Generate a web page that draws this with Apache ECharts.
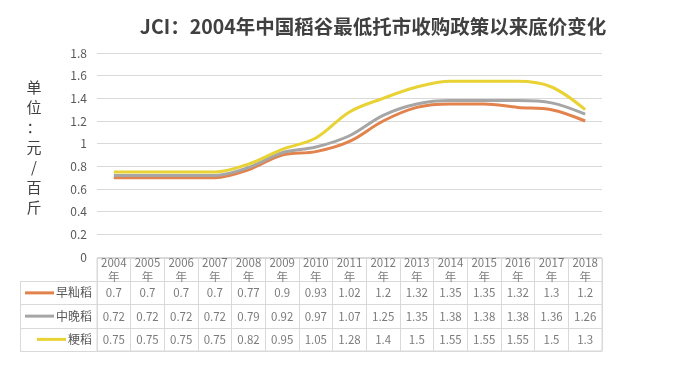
<!DOCTYPE html>
<html>
<head>
<meta charset="utf-8">
<script src="https://cdn.jsdelivr.net/npm/echarts@6/dist/echarts.min.js"></script>
<style>
  html, body { margin: 0; padding: 0; background: #fff; }
  #main { width: 700px; height: 377px; }
</style>
</head>
<body>
<div id="main"></div>
<script>
// data
const YEARS = ["2004", "2005", "2006", "2007", "2008", "2009", "2010", "2011",
  "2012", "2013", "2014", "2015", "2016", "2017", "2018"];
const SERIES_NAMES = ["早籼稻", "中晚稻", "粳稻"];
const EARLY_INDICA = [0.7, 0.7, 0.7, 0.7, 0.77, 0.9, 0.93, 1.02, 1.2, 1.32, 1.35, 1.35, 1.32, 1.3, 1.2];
const MID_LATE_INDICA = [0.72, 0.72, 0.72, 0.72, 0.79, 0.92, 0.97, 1.07, 1.25, 1.35, 1.38, 1.38, 1.38, 1.36, 1.26];
const JAPONICA = [0.75, 0.75, 0.75, 0.75, 0.82, 0.95, 1.05, 1.28, 1.4, 1.5, 1.55, 1.55, 1.55, 1.5, 1.3];
const Y_MIN = 0, Y_MAX = 1.8, Y_STEP = 0.2;

const COLORS = ["#E2824C", "#A6A6A6", "#E8D234"];
const GRID_COLOR = "#d9d9d9";
const TEXT_COLOR = "#595959";
const FONT = "'Noto Sans CJK SC', sans-serif";

// layout
const PLOT_LEFT = 97, PLOT_RIGHT = 98, PLOT_TOP = 53, PLOT_BOTTOM = 257;
const TABLE_TOP = 258, TABLE_BOTTOM = 351, LABEL_COL_LEFT = 20;
const ROW_H = (TABLE_BOTTOM - TABLE_TOP) / 4;

const valueRows = [EARLY_INDICA, MID_LATE_INDICA, JAPONICA];
let cells = [];
YEARS.forEach((y, i) => {
  cells.push([i, 0, y + "\n年"]);
  valueRows.forEach((row, r) => cells.push([i, r + 1, row[i]]));
});

const lineSeries = [EARLY_INDICA, MID_LATE_INDICA, JAPONICA].map((d, k) => ({
  name: SERIES_NAMES[k],
  type: "line",
  smooth: 0.35,
  showSymbol: false,
  xAxisIndex: 0,
  yAxisIndex: 0,
  lineStyle: { width: 3, color: COLORS[k] },
  itemStyle: { color: COLORS[k] },
  z: 3 + k,
  data: d,
}));

const option = {
  animation: false,
  textStyle: { fontFamily: FONT },
  title: [
    {
      text: "JCI：2004年中国稻谷最低托市收购政策以来底价变化",
      left: 368,
      top: 12,
      textAlign: "center",
      textStyle: { fontSize: 19.5, fontWeight: "bold", color: "#404040", fontFamily: FONT },
    },
    {
      text: "单\n位\n：\n元\n/\n百\n斤",
      left: 29,
      top: 72,
      textAlign: "center",
      textStyle: { fontSize: 15, lineHeight: 20, fontWeight: "normal", color: "#404040", fontFamily: FONT },
    },
  ],
  grid: [
    { left: PLOT_LEFT, right: PLOT_RIGHT, top: PLOT_TOP, height: PLOT_BOTTOM - PLOT_TOP },
    {
      left: PLOT_LEFT, right: PLOT_RIGHT, top: TABLE_TOP, height: TABLE_BOTTOM - TABLE_TOP,
      show: true, borderColor: GRID_COLOR, borderWidth: 1,
    },
  ],
  xAxis: [
    {
      gridIndex: 0, type: "category", data: YEARS, boundaryGap: true,
      axisLine: { show: false }, axisTick: { show: false }, axisLabel: { show: false },
    },
    {
      gridIndex: 1, type: "category", data: YEARS, boundaryGap: true,
      axisLine: { show: true, lineStyle: { color: GRID_COLOR } },
      axisTick: { show: false }, axisLabel: { show: false },
      splitLine: { show: true, interval: 0, lineStyle: { color: GRID_COLOR } },
    },
  ],
  yAxis: [
    {
      gridIndex: 0, type: "value", min: Y_MIN, max: Y_MAX, interval: Y_STEP,
      axisLine: { show: false }, axisTick: { show: false },
      axisLabel: { color: TEXT_COLOR, fontSize: 12, margin: 10 },
      splitLine: { lineStyle: { color: GRID_COLOR } },
    },
    {
      gridIndex: 1, type: "category", inverse: true, data: [""].concat(SERIES_NAMES),
      axisLine: { show: true, lineStyle: { color: GRID_COLOR } },
      axisTick: {
        show: true, length: PLOT_LEFT - LABEL_COL_LEFT,
        interval: (i) => i > 0,
        lineStyle: { color: GRID_COLOR },
      },
      splitLine: { show: true, interval: 0, lineStyle: { color: GRID_COLOR } },
      axisLabel: {
        margin: 5,
        formatter: (v, i) => (i === 0 ? "" : "{l" + i + "|}{n|" + v + "}"),
        rich: {
          l1: { width: 29, height: 3, backgroundColor: COLORS[0] },
          l2: { width: 29, height: 3, backgroundColor: COLORS[1] },
          l3: { width: 29, height: 3, backgroundColor: COLORS[2] },
          n: { fontSize: 12, color: TEXT_COLOR, padding: [0, 0, 0, 2] },
        },
      },
    },
  ],
  graphic: [
    {
      type: "line",
      shape: { x1: LABEL_COL_LEFT + 0.5, y1: TABLE_TOP + ROW_H, x2: LABEL_COL_LEFT + 0.5, y2: TABLE_BOTTOM },
      style: { stroke: GRID_COLOR, lineWidth: 1 },
    },
  ],
  series: lineSeries.concat([
    {
      type: "scatter",
      xAxisIndex: 1,
      yAxisIndex: 1,
      symbolSize: 1,
      itemStyle: { color: "rgba(0,0,0,0)" },
      label: {
        show: true,
        position: "inside",
        color: TEXT_COLOR,
        fontSize: 11.5,
        lineHeight: 14,
        formatter: (p) => String(p.data[2]),
      },
      data: cells,
    },
  ]),
};

var chart = echarts.init(document.getElementById("main"));
chart.setOption(option);
</script>
</body>
</html>
